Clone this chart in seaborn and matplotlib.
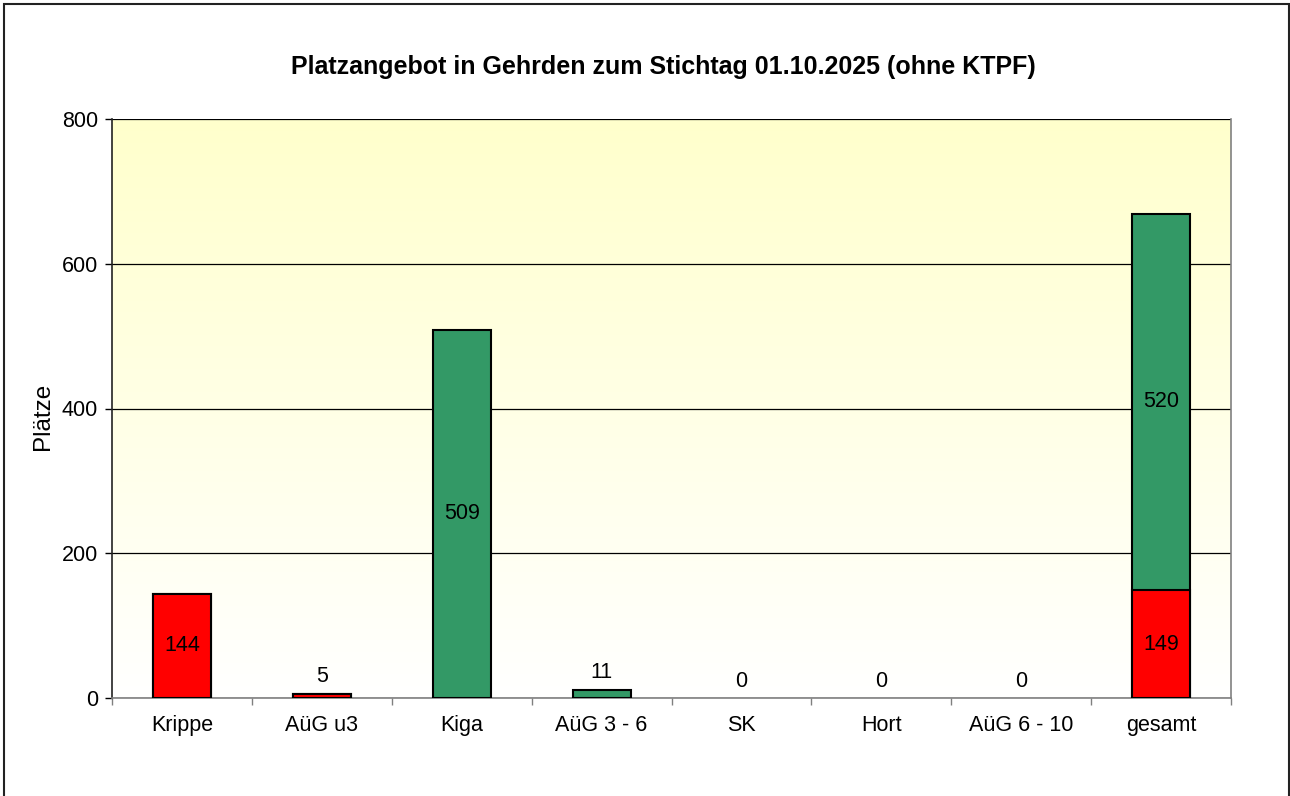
import numpy as np
import pandas as pd
import matplotlib
matplotlib.use("Agg")
import matplotlib.pyplot as plt
from matplotlib.patches import Rectangle
from matplotlib.ticker import FixedLocator
import seaborn as sns

categories = ["Krippe", "AüG u3", "Kiga", "AüG 3 - 6", "SK", "Hort", "AüG 6 - 10", "gesamt"]
unter3 = [144, 5, 0, 0, 0, 0, 0, 149]      # red series
ue3 = [0, 0, 509, 11, 0, 0, 0, 520]        # green series

red = "#FF0000"
green = "#339966"

sns.set_style("white")
plt.rcParams["font.family"] = ["Liberation Sans", "DejaVu Sans"]
plt.rcParams["text.color"] = "black"
plt.rcParams["axes.labelcolor"] = "black"
plt.rcParams["xtick.color"] = "black"
plt.rcParams["ytick.color"] = "black"

df = pd.DataFrame({"cat": categories, "u3": unter3, "ue3": ue3})
df["total"] = df["u3"] + df["ue3"]

fig = plt.figure(figsize=(12.9, 7.96), dpi=100)
ax = fig.add_axes([112 / 1290, 1 - 698 / 796, (1231 - 112) / 1290, (698 - 119) / 796])

# yellow -> white gradient background
grad = np.linspace(0, 1, 256).reshape(-1, 1)
top = np.array([1.0, 1.0, 0.80])
bot = np.array([1.0, 1.0, 1.0])
img = top * (1 - grad[..., None]) + bot * grad[..., None]
ax.imshow(img, extent=[0, 1, 0, 1], transform=ax.transAxes, aspect="auto", zorder=0)

sns.barplot(data=df, x="cat", y="total", order=categories, color=green, width=0.415,
            edgecolor="black", linewidth=1.5, saturation=1, ax=ax, zorder=3)
sns.barplot(data=df, x="cat", y="u3", order=categories, color=red, width=0.415,
            edgecolor="black", linewidth=1.5, saturation=1, ax=ax, zorder=4)
for p in ax.patches:
    if p.get_height() == 0:
        p.set_visible(False)

ax.set_xlim(-0.5, len(categories) - 0.5)
ax.set_ylim(0, 800)
ax.set_yticks([0, 200, 400, 600, 800])
ax.yaxis.grid(True, color="black", linewidth=0.9, zorder=1)
ax.set_axisbelow(True)

# labels
fs = 15.5
for i, (a, b) in enumerate(zip(unter3, ue3)):
    if a == 0 and b == 0:
        ax.annotate("0", (i, 0), xytext=(0, 4), textcoords="offset points",
                    ha="center", va="bottom", fontsize=fs, zorder=5)
        continue
    for val, base in ((a, 0), (b, a)):
        if val == 0:
            continue
        if val < 60:
            ax.annotate(str(val), (i, base + val), xytext=(0, 5), textcoords="offset points",
                        ha="center", va="bottom", fontsize=fs, zorder=5)
        else:
            ax.text(i, base + val / 2, str(val), ha="center", va="center", fontsize=fs, zorder=5)

ax.set_xlabel("")
ax.set_ylabel("Plätze", fontsize=17.5)
ax.yaxis.set_label_coords(-0.052, 0.486)
ax.tick_params(axis="y", length=5, width=1, labelsize=15.5, pad=5, left=True)
ax.tick_params(axis="x", which="major", length=0, labelsize=15.5, pad=12)
ax.xaxis.set_minor_locator(FixedLocator(np.arange(-0.5, len(categories), 1.0)))
ax.tick_params(axis="x", which="minor", length=5, width=1, color="#808080", bottom=True)

ax.spines["top"].set_visible(False)
ax.spines["left"].set_color("#222222")
ax.spines["bottom"].set_color("#808080")
ax.spines["right"].set_color("#808080")
for s in ax.spines.values():
    s.set_linewidth(1.2)

ax.text(0.4925, 1 + (119 - 67) / 579, "Platzangebot in Gehrden zum Stichtag 01.10.2025 (ohne KTPF)",
        transform=ax.transAxes, ha="center", va="center", fontsize=18, fontweight="bold")

fig.add_artist(Rectangle((4 / 1290, -0.01), 1285 / 1290, 1.01 - 4 / 796, transform=fig.transFigure,
                         fill=False, edgecolor="#222222", linewidth=1.5))

fig.savefig("out.png", dpi=100)
